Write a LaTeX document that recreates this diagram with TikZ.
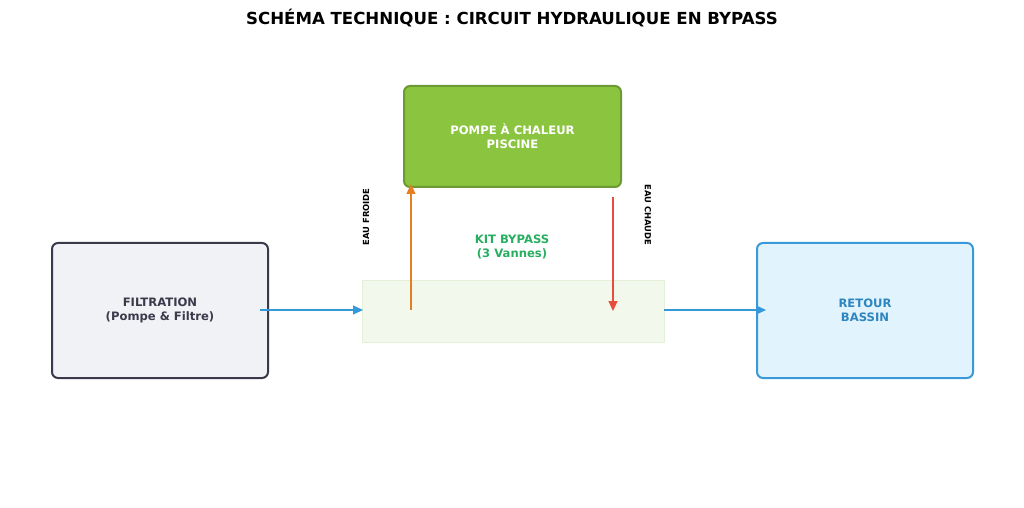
\documentclass[tikz,border=0pt]{standalone}
\usepackage{fontspec}
\setmainfont{DejaVu Sans}
\usetikzlibrary{arrows.meta}
\definecolor{dark}{HTML}{3A3A4A}
\definecolor{filfill}{HTML}{F0F2F6}
\definecolor{retfill}{HTML}{E1F3FC}
\definecolor{retborder}{HTML}{3A9AD9}
\definecolor{rettext}{HTML}{2E86C1}
\definecolor{pumpfill}{HTML}{8BC53F}
\definecolor{pumpborder}{HTML}{6E9A35}
\definecolor{kitfill}{HTML}{F2F8EC}
\definecolor{kitborder}{HTML}{E4F0D8}
\definecolor{kittext}{HTML}{27AE60}
\definecolor{orangec}{HTML}{E67E22}
\definecolor{redc}{HTML}{E74C3C}
\definecolor{bluec}{HTML}{3498DB}
\begin{document}
\begin{tikzpicture}[x=0.5pt,y=-0.5pt,
  box/.style={draw,rounded corners=3pt,line width=1pt,align=center,font=\fontsize{5.8}{7}\selectfont\bfseries},
  flow/.style={line width=0.6pt,-{Triangle[length=5pt,width=4.5pt]}},
  lab/.style={font=\fontsize{4.2}{5}\selectfont\bfseries}]
\useasboundingbox (0,0) rectangle (1024,508);
\node[font=\fontsize{8.3}{10}\selectfont\bfseries] (title) at (512,18) {SCHÉMA TECHNIQUE : CIRCUIT HYDRAULIQUE EN BYPASS};
\node[box,draw=dark,fill=filfill,text=dark,minimum width=108pt,minimum height=67.5pt] (fil) at (160,310.5) {FILTRATION\\(Pompe \& Filtre)};
\node[box,draw=retborder,fill=retfill,text=rettext,minimum width=108pt,minimum height=67.5pt] (ret) at (865,310.5) {RETOUR\\BASSIN};
\node[box,draw=pumpborder,fill=pumpfill,text=white,minimum width=108.5pt,minimum height=50.5pt] (pump) at (512.5,136.5) {POMPE À CHALEUR\\PISCINE};
\node[draw=kitborder,line width=0.4pt,fill=kitfill,minimum width=151pt,minimum height=31pt,inner sep=0pt] (kit) at (513,311) {};
\node[text=kittext,align=center,font=\fontsize{5.8}{7}\selectfont\bfseries] (kitlab) at (512,247) {KIT BYPASS\\(3 Vannes)};
\coordinate (a1) at (260,310); \coordinate (a2) at (363,310);
\coordinate (b1) at (664,310); \coordinate (b2) at (766,310);
\coordinate (o1) at (411,310); \coordinate (o2) at (411,184);
\coordinate (r1) at (613,197); \coordinate (r2) at (613,311);
\draw[flow,bluec] (a1) -- (a2);
\draw[flow,bluec] (b1) -- (b2);
\draw[flow,orangec] (o1) -- (o2);
\draw[flow,redc] (r1) -- (r2);
\node[lab,rotate=90] (froide) at (366,217) {EAU FROIDE};
\node[lab,rotate=-90] (chaude) at (648,215) {EAU CHAUDE};
\end{tikzpicture}
\end{document}
